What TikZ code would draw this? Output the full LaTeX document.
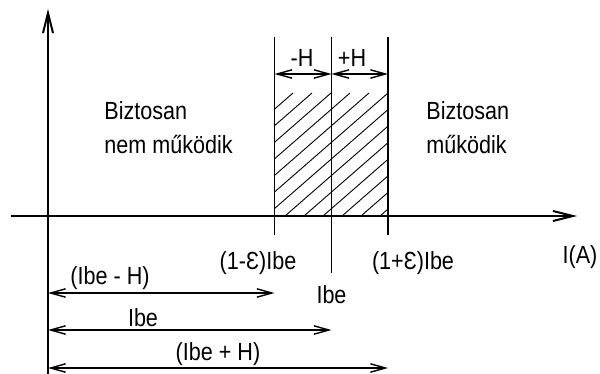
\documentclass[tikz,border=0pt]{standalone}
\usepackage{fontspec}
\setmainfont{Liberation Sans}[FakeStretch=0.87]
\usetikzlibrary{arrows.meta}

\begin{document}
\begin{tikzpicture}[
    x=0.5pt, y=-0.5pt,
    font=\fontsize{12.4}{17}\selectfont,
    axis/.style={line width=1pt, -{Straight Barb[length=10pt, width=5pt]}},
    guide/.style={line width=0.7pt},
    dim/.style={line width=0.7pt,
                {Straight Barb[length=7.5pt, width=4.2pt]}-{Straight Barb[length=7.5pt, width=4.2pt]}},
    hatch/.style={line width=0.45pt},
    lbl/.style={inner sep=0pt},
]
    \useasboundingbox (0,0) rectangle (600,374);

    % --- Reference points on the current axis ---
    \coordinate (o)    at (48,216);
    \coordinate (lo)   at (274.5,216);
    \coordinate (mid)  at (331.5,216);
    \coordinate (hi)   at (388,216);
    \coordinate (xbeg) at (11,216);
    \coordinate (xend) at (577,216);
    \coordinate (ybeg) at (48,374);
    \coordinate (yend) at (48,9);

    % --- Hatched band between (1-E)Ibe and (1+E)Ibe ---
    \begin{scope}
        \clip (274.5,93) rectangle (hi);
        \foreach \k in {-8,...,6}
            \draw[hatch] (285+19*\k,216) -- ++(141,-123);
    \end{scope}

    % --- Axes ---
    \draw[axis] (xbeg) -- (xend);
    \draw[axis] (ybeg) -- (yend);
    \node[lbl] (cur) at (580,257) {I(A)};

    % --- Limits of the band ---
    \coordinate (lotop)  at (274.5,37);
    \coordinate (midtop) at (331.5,37);
    \coordinate (hitop)  at (388,37);
    \coordinate (lobot)  at (274.5,235);
    \coordinate (midbot) at (331.5,273);
    \coordinate (hibot)  at (388,235);
    \draw[guide] (lotop)  -- (lobot);
    \draw[guide] (midtop) -- (midbot);
    \draw[guide] (hitop)  -- (hibot);

    \node[lbl] (lolbl)  at (258,263) {(1-Ɛ)Ibe};
    \node[lbl] (hilbl)  at (413,263) {(1+Ɛ)Ibe};
    \node[lbl] (midlbl) at (331.5,295) {Ibe};

    % --- Hysteresis width above the band ---
    \draw[dim] (lotop |- 0,74) -- (midtop |- 0,74);
    \draw[dim] (midtop |- 0,74) -- (hitop |- 0,74);
    \node[lbl] (hminus) at (302,58) {-H};
    \node[lbl] (hplus)  at (352,58) {+H};

    % --- Regions ---
    \node[lbl, anchor=west, align=left] (off) at (104,128) {Biztosan\\nem működik};
    \node[lbl, anchor=west, align=left] (on)  at (426,128) {Biztosan\\működik};

    % --- Distances from the origin ---
    \draw[dim] (o |- 0,293) -- (lo |- 0,293);
    \draw[dim] (o |- 0,330) -- (mid |- 0,330);
    \draw[dim] (o |- 0,368) -- (hi |- 0,368);
    \node[lbl] (dlo)  at (110,278) {(Ibe - H)};
    \node[lbl] (dmid) at (143,318) {Ibe};
    \node[lbl] (dhi)  at (218,354) {(Ibe + H)};
\end{tikzpicture}
\end{document}
